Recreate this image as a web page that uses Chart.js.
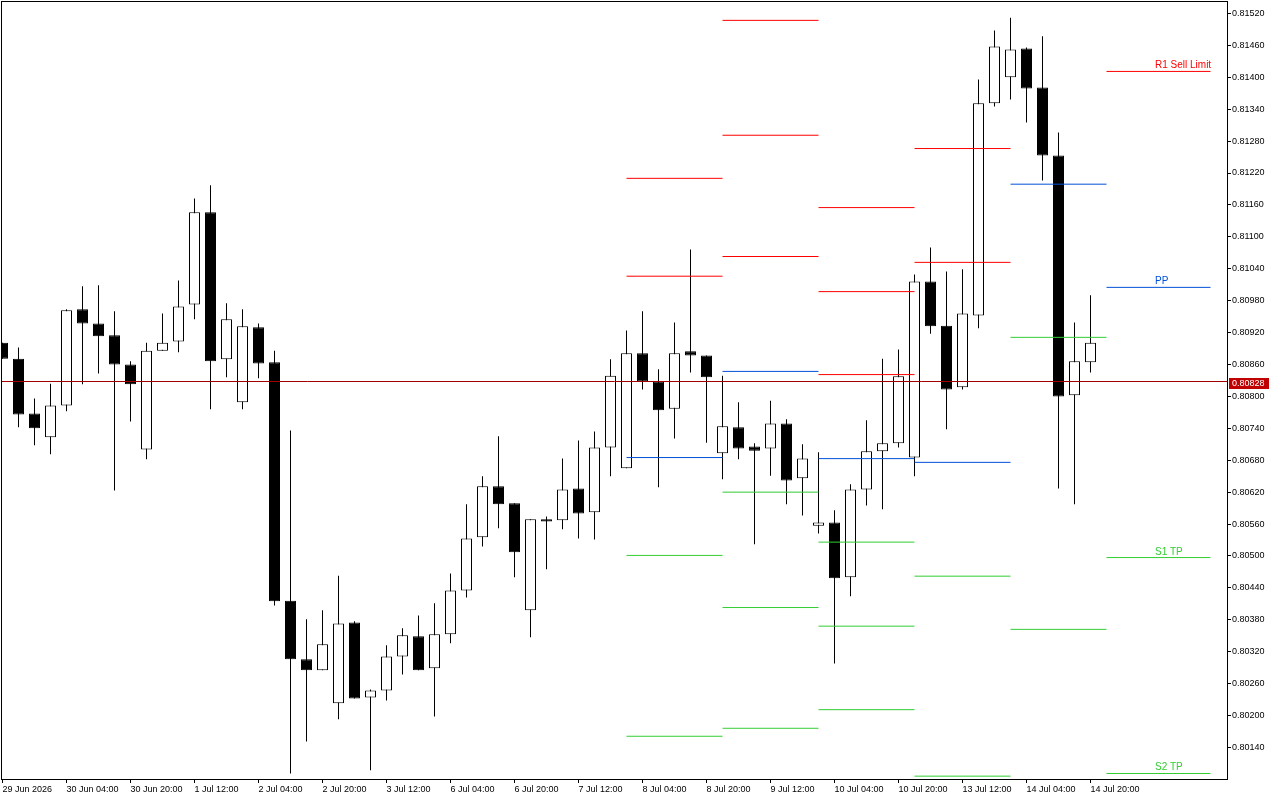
<!DOCTYPE html>
<html>
<head>
<meta charset="utf-8">
<script src="https://cdn.jsdelivr.net/npm/chart.js@4.4.1/dist/chart.umd.min.js"></script>
<style>
  html, body { margin: 0; padding: 0; background: #fff; }
</style>
</head>
<body>
<canvas id="chart" width="1280" height="800"></canvas>
<script>
// H4 candles, index 0 = 29 Jun 12:00
var opens = [0.80901,0.80871,0.80768,0.80723,0.80783,0.80964,0.80937,0.80915,0.80860,0.80700,
  0.80886,0.80903,0.80973,0.81146,0.80870,0.80789,0.80930,0.80864,0.80416,0.80306,
  0.80285,0.80223,0.80375,0.80234,0.80247,0.80311,0.80349,0.80289,0.80353,0.80435,
  0.80535,0.80631,0.80599,0.80398,0.80569,0.80567,0.80627,0.80582,0.80704,0.80665,
  0.80881,0.80828,0.80777,0.80885,0.80877,0.80693,0.80742,0.80706,0.80702,0.80749,
  0.80646,0.80557,0.80563,0.80460,0.80625,0.80697,0.80712,0.80685,0.81016,0.80933,
  0.80817,0.80952,0.81351,0.81400,0.81454,0.81381,0.81253,0.80802,0.80864];
var highs = [0.80901,0.80892,0.80796,0.80824,0.80964,0.81007,0.81009,0.80960,0.80866,0.80901,
  0.80956,0.81018,0.81172,0.81197,0.80975,0.80964,0.80937,0.80886,0.80736,0.80381,
  0.80398,0.80463,0.80377,0.80249,0.80332,0.80364,0.80388,0.80411,0.80467,0.80597,
  0.80650,0.80725,0.80599,0.80569,0.80574,0.80683,0.80717,0.80734,0.80870,0.80924,
  0.80960,0.80851,0.80939,0.81076,0.80877,0.80839,0.80789,0.80712,0.80792,0.80757,
  0.80710,0.80695,0.80586,0.80635,0.80755,0.80871,0.80888,0.81029,0.81080,0.81035,
  0.81039,0.81396,0.81488,0.81512,0.81456,0.81477,0.81296,0.80939,0.80990];
var lows = [0.80871,0.80742,0.80708,0.80691,0.80772,0.80823,0.80843,0.80623,0.80753,0.80682,
  0.80886,0.80883,0.80945,0.80776,0.80836,0.80776,0.80834,0.80407,0.80091,0.80151,
  0.80285,0.80193,0.80232,0.80097,0.80228,0.80277,0.80285,0.80198,0.80336,0.80422,
  0.80518,0.80552,0.80460,0.80347,0.80475,0.80550,0.80533,0.80531,0.80650,0.80665,
  0.80813,0.80629,0.80721,0.80845,0.80713,0.80644,0.80682,0.80522,0.80651,0.80597,
  0.80576,0.80542,0.80298,0.80424,0.80595,0.80588,0.80704,0.80650,0.80918,0.80738,
  0.80813,0.80928,0.81345,0.81358,0.81315,0.81206,0.80627,0.80597,0.80845];
var closes = [0.80871,0.80766,0.80740,0.80783,0.80962,0.80937,0.80913,0.80860,0.80823,0.80886,
  0.80901,0.80969,0.81146,0.80866,0.80945,0.80932,0.80862,0.80415,0.80306,0.80285,
  0.80334,0.80373,0.80232,0.80247,0.80311,0.80351,0.80285,0.80353,0.80435,0.80533,
  0.80631,0.80597,0.80507,0.80569,0.80565,0.80625,0.80580,0.80704,0.80839,0.80881,
  0.80828,0.80774,0.80881,0.80877,0.80836,0.80744,0.80702,0.80698,0.80749,0.80642,
  0.80683,0.80563,0.80458,0.80625,0.80697,0.80712,0.80838,0.81016,0.80932,0.80813,
  0.80956,0.81351,0.81458,0.81452,0.81379,0.81253,0.80800,0.80866,0.80901];

var lastPrice = 0.80828;

// daily pivot segments (candle index where each day starts / ends)
var dayStart = [39, 45, 51, 57, 63, 69];
var dayEnd   = [45, 51, 57, 63, 69, 75.5];
var r3 = [null,    0.81507, 0.81155, null,    null,    null];
var r2 = [0.81210, 0.81291, 0.80997, 0.81266, null,    null];
var r1 = [0.81026, 0.81063, 0.80841, 0.81052, null,    0.81411];
var pp = [0.80685, 0.80847, 0.80683, 0.80676, 0.81199, 0.81005];
var s1 = [0.80501, 0.80620, 0.80526, 0.80462, 0.80911, 0.80497];
var s2 = [0.80161, 0.80403, 0.80368, 0.80086, 0.80362, 0.80091];
var s3 = [null,    0.80176, 0.80211, null,    null,    null];

var levelNames = ['R1 Sell Limit', 'PP', 'S1 TP', 'S2 TP'];

var xTickPos = [0, 4, 8, 12, 16, 20, 24, 28, 32, 36, 40, 44, 48, 52, 56, 60, 64, 68];
var xTickLabels = ['29 Jun 2026', '30 Jun 04:00', '30 Jun 20:00', '1 Jul 12:00', '2 Jul 04:00',
  '2 Jul 20:00', '3 Jul 12:00', '6 Jul 04:00', '6 Jul 20:00', '7 Jul 12:00', '8 Jul 04:00',
  '8 Jul 20:00', '9 Jul 12:00', '10 Jul 04:00', '10 Jul 20:00', '13 Jul 12:00', '14 Jul 04:00',
  '14 Jul 20:00'];
var yTicks = [0.80140, 0.80200, 0.80260, 0.80320, 0.80380, 0.80440, 0.80500, 0.80560, 0.80620,
  0.80680, 0.80740, 0.80800, 0.80860, 0.80920, 0.80980, 0.81040, 0.81100, 0.81160, 0.81220,
  0.81280, 0.81340, 0.81400, 0.81460, 0.81520];

var RED = '#ff0000', BLUE = '#0050d8', GREEN = '#32cd32';
var FONT = '"Liberation Sans", Arial, sans-serif';

function levelSet(values, color) {
  var pts = [];
  values.forEach(function (v, d) {
    if (v === null) return;
    pts.push({ x: dayStart[d], y: v }, { x: dayEnd[d], y: v }, { x: dayEnd[d], y: null });
  });
  return {
    type: 'line', data: pts, borderColor: color, borderWidth: 1,
    pointRadius: 0, spanGaps: false, order: 0
  };
}

var bodies = opens.map(function (o, i) { return { x: i, y: [o, closes[i]] }; });
var wicks = opens.map(function (o, i) { return { x: i, y: [lows[i], highs[i]] }; });
var fills = opens.map(function (o, i) { return closes[i] > o ? '#ffffff' : '#000000'; });

var overlay = {
  id: 'overlay',
  afterDatasetsDraw: function (chart) {
    var ctx = chart.ctx, ys = chart.scales.y;
    var last = dayStart.length - 1;
    var vals = [r1[last], pp[last], s1[last], s2[last]];
    var cols = [RED, BLUE, GREEN, GREEN];
    ctx.save();
    ctx.font = '10px ' + FONT;
    ctx.textAlign = 'left';
    ctx.textBaseline = 'alphabetic';
    vals.forEach(function (v, i) {
      ctx.fillStyle = cols[i];
      ctx.fillText(levelNames[i], 1155, Math.round(ys.getPixelForValue(v)) - 3);
    });
    ctx.restore();
  },
  afterDraw: function (chart) {
    var ctx = chart.ctx, a = chart.chartArea, ys = chart.scales.y;
    ctx.save();
    ctx.strokeStyle = '#000';
    ctx.lineWidth = 1;
    ctx.strokeRect(a.left - 0.5, a.top - 0.5, a.right - a.left + 1, a.bottom - a.top + 1);
    var py = Math.round(ys.getPixelForValue(lastPrice));
    ctx.fillStyle = '#c00000';
    ctx.fillRect(a.right + 2, py - 4, 40, 11);
    ctx.fillStyle = '#ffffff';
    ctx.font = '9px ' + FONT;
    ctx.textBaseline = 'middle';
    ctx.fillText(lastPrice.toFixed(5), a.right + 5, py + 2);
    ctx.restore();
  }
};

new Chart(document.getElementById('chart'), {
  type: 'bar',
  data: {
    datasets: [
      levelSet(r3, RED), levelSet(r2, RED), levelSet(r1, RED), levelSet(pp, BLUE),
      levelSet(s1, GREEN), levelSet(s2, GREEN), levelSet(s3, GREEN),
      {
        type: 'line', data: [{ x: -2, y: lastPrice }, { x: 80, y: lastPrice }],
        borderColor: '#a00000', borderWidth: 1, pointRadius: 0, order: 0
      },
      {
        data: bodies, backgroundColor: fills, borderColor: '#000', borderWidth: 1,
        borderSkipped: false, barThickness: 11, grouped: false, inflateAmount: 0, order: 1
      },
      {
        data: wicks, backgroundColor: '#000', borderWidth: 0,
        barThickness: 1, grouped: false, inflateAmount: 0, order: 2
      }
    ]
  },
  options: {
    responsive: false,
    animation: false,
    devicePixelRatio: 1,
    layout: { padding: { left: 2, top: 2, right: 0, bottom: 0 } },
    plugins: { legend: { display: false }, tooltip: { enabled: false } },
    scales: {
      x: {
        type: 'linear', min: -0.03125, max: 76.53125, offset: false,
        grid: { display: true, drawOnChartArea: false, offset: false, tickLength: 4, color: '#000' },
        border: { display: true, color: '#000' },
        afterBuildTicks: function (s) { s.ticks = xTickPos.map(function (v) { return { value: v }; }); },
        afterFit: function (s) { s.height = 21; s.paddingLeft = 0; s.paddingRight = 0; },
        ticks: {
          autoSkip: false, maxRotation: 0, align: 'start', padding: 1,
          color: '#000', font: { family: FONT, size: 9 },
          callback: function (v) { return xTickLabels[xTickPos.indexOf(v)]; }
        }
      },
      y: {
        position: 'right', min: 0.8008063, max: 0.8154153,
        grid: { display: true, drawOnChartArea: false, tickLength: 4, color: '#000' },
        border: { display: true, color: '#000' },
        afterBuildTicks: function (s) { s.ticks = yTicks.map(function (v) { return { value: v }; }); },
        afterFit: function (s) { s.width = 53; s.paddingTop = 0; s.paddingBottom = 0; },
        ticks: {
          padding: 1, color: '#000', font: { family: FONT, size: 9 },
          callback: function (v) { return v.toFixed(5); }
        }
      }
    }
  },
  plugins: [overlay]
});
</script>
</body>
</html>
